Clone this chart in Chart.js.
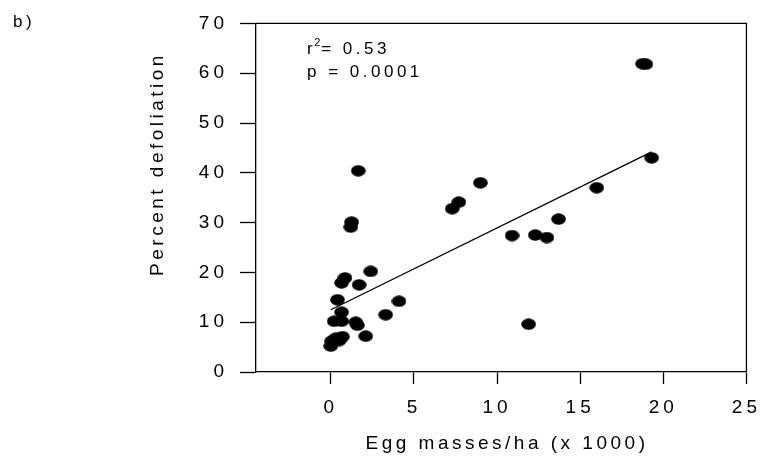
<!DOCTYPE html>
<html>
<head>
<meta charset="utf-8">
<script src="https://cdn.jsdelivr.net/npm/chart.js@4"></script>
<style>
  body { margin: 0; background: #fff; }
  canvas { display: block; }
</style>
</head>
<body>
<canvas id="myChart" width="769" height="463"></canvas>
<script>
// egg masses/ha (x 1000) vs percent defoliation
const eggMasses = [0.0, 0.05, 0.3, 0.5, 0.7, 2.1, 0.2, 0.65, 1.5, 1.6, 0.65, 3.3, 0.4, 4.1,
  0.65, 0.85, 1.7, 2.4, 1.2, 1.25, 1.65, 7.3, 7.7, 9.0, 10.9, 12.3, 13.0, 13.7, 11.9, 16.0,
  19.3, 18.75, 18.95];
const defoliation = [5.2, 6.2, 6.8, 6.3, 7.1, 7.2, 10.2, 10.2, 10.0, 9.4, 12.0, 11.5, 14.5, 14.2,
  17.9, 18.9, 17.5, 20.2, 29.1, 30.1, 40.4, 32.8, 34.1, 38.0, 27.4, 27.5, 27.0, 30.7, 9.6, 37.0,
  43.0, 61.9, 61.8];
// regression line ends
const fitX = [0, 19.3];
const fitY = [12.5, 44.2];
const xTicks = [0, 5, 10, 15, 20, 25];
const yTicks = [0, 10, 20, 30, 40, 50, 60, 70];

const FONT = "'Liberation Sans', Arial, sans-serif";

// ellipse marker
const dot = document.createElement('canvas');
dot.width = 15;
dot.height = 12;
const dctx = dot.getContext('2d');
dctx.fillStyle = '#000';
dctx.beginPath();
dctx.ellipse(7.5, 6, 7.3, 5.8, 0, 0, Math.PI * 2);
dctx.fill();

const textPlugin = {
  id: 'textPlugin',
  beforeDraw(chart) {
    chart.ctx.letterSpacing = '4px';
  },
  afterDraw(chart) {
    const ctx = chart.ctx;
    const a = chart.chartArea;
    ctx.save();
    // frame top/right
    ctx.strokeStyle = '#000';
    ctx.lineWidth = 1.3;
    ctx.beginPath();
    ctx.moveTo(a.left, a.top);
    ctx.lineTo(a.right, a.top);
    ctx.lineTo(a.right, a.bottom);
    ctx.stroke();

    ctx.fillStyle = '#000';
    ctx.textBaseline = 'alphabetic';
    ctx.letterSpacing = '3.5px';
    ctx.font = '17px ' + FONT;
    ctx.textAlign = 'left';
    ctx.fillText('b)', 13, 27);

    // r2 and p
    ctx.fillText('r', 307, 54);
    let w = ctx.measureText('r').width;
    ctx.font = '11px ' + FONT;
    ctx.letterSpacing = '0px';
    ctx.fillText('2', 307 + w - 2, 46);
    ctx.font = '17px ' + FONT;
    ctx.letterSpacing = '3.5px';
    ctx.fillText('= 0.53', 307 + w + 5, 54);
    ctx.fillText('p = 0.0001', 307, 77);

    // axis titles
    ctx.font = '19px ' + FONT;
    ctx.textAlign = 'center';
    ctx.letterSpacing = '3.5px';
    ctx.fillText('Egg masses/ha (x 1000)', 507, 449);
    ctx.translate(163, 164);
    ctx.rotate(-Math.PI / 2);
    ctx.fillText('Percent defoliation', 0, 0);
    ctx.restore();
  }
};

const data = {
  datasets: [{
    type: 'scatter',
    label: 'sites',
    data: eggMasses.map((x, i) => ({ x: x, y: defoliation[i] })),
    pointStyle: dot,
    pointRadius: 6,
    backgroundColor: '#000',
    borderColor: '#000'
  }, {
    type: 'line',
    label: 'fit',
    data: fitX.map((x, i) => ({ x: x, y: fitY[i] })),
    borderColor: '#000',
    borderWidth: 1.3,
    pointRadius: 0,
    fill: false
  }]
};

const config = {
  type: 'scatter',
  data: data,
  options: {
    responsive: false,
    animation: false,
    devicePixelRatio: 1,
    layout: { padding: { left: 0, right: 15, top: 17, bottom: 0 } },
    plugins: {
      legend: { display: false },
      tooltip: { enabled: false }
    },
    scales: {
      x: {
        type: 'linear',
        min: -4.5,
        max: 25,
        afterBuildTicks: s => { s.ticks = xTicks.map(v => ({ value: v })); },
        afterFit: s => { s.height = 91; },
        ticks: { color: '#000', font: { family: FONT, size: 19 }, padding: 12, maxRotation: 0 },
        grid: { drawOnChartArea: false, drawTicks: true, tickLength: 12, tickWidth: 1.3, tickColor: '#000' },
        border: { display: true, color: '#000', width: 1.3 }
      },
      y: {
        type: 'linear',
        min: 0,
        max: 70,
        afterBuildTicks: s => { s.ticks = yTicks.map(v => ({ value: v })); },
        afterFit: s => { s.width = 256; },
        ticks: { color: '#000', font: { family: FONT, size: 19 }, padding: 12 },
        grid: { drawOnChartArea: false, drawTicks: true, tickLength: 16, tickWidth: 1.3, tickColor: '#000' },
        border: { display: true, color: '#000', width: 1.3 }
      }
    }
  },
  plugins: [textPlugin]
};

const myChart = new Chart(document.getElementById('myChart'), config);
</script>
</body>
</html>
